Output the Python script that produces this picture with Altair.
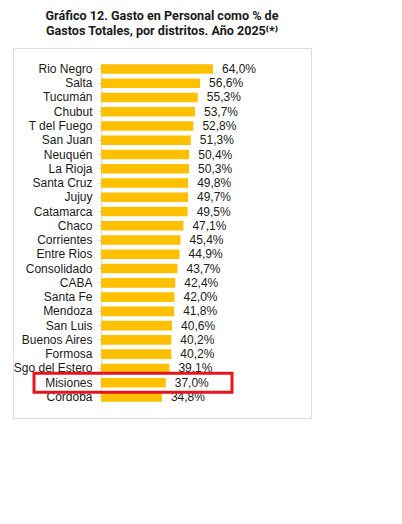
import altair as alt
import pandas as pd

districts = ["Rio Negro", "Salta", "Tucumán", "Chubut", "T del Fuego", "San Juan",
             "Neuquén", "La Rioja", "Santa Cruz", "Jujuy", "Catamarca", "Chaco",
             "Corrientes", "Entre Rios", "Consolidado", "CABA", "Santa Fe", "Mendoza",
             "San Luis", "Buenos Aires", "Formosa", "Sgo del Estero", "Misiones", "Córdoba"]
values = [64.0, 56.6, 55.3, 53.7, 52.8, 51.3, 50.4, 50.3, 49.8, 49.7, 49.5, 47.1,
          45.4, 44.9, 43.7, 42.4, 42.0, 41.8, 40.6, 40.2, 40.2, 39.1, 37.0, 34.8]
highlight = ["Misiones"]

df = pd.DataFrame({"district": districts, "value": values})
hl = pd.DataFrame({"district": highlight})

FONT = "Liberation Sans"

yscale = alt.Scale(domain=districts, paddingInner=0.33, paddingOuter=0,
                   range=[16.2, 353.7])
xscale = alt.Scale(domain=[-50.29, 120], nice=False, zero=False)

base = alt.Chart(df)

bars = base.mark_bar(color="#FFC000").encode(
    y=alt.Y("district:N", sort=districts, scale=yscale,
            axis=alt.Axis(title=None, offset=-88, labelFont=FONT, labelFontSize=12,
                          labelColor="#1a1a1a", labelPadding=6, tickSize=3,
                          tickColor="#d9d9d9", domainColor="#d9d9d9", labelLimit=200)),
    x=alt.X("value:Q", scale=xscale, axis=None),
)

labels = base.transform_calculate(
    lab="replace(format(datum.value, '.1f'), '.', ',') + '%'"
).mark_text(align="left", baseline="middle", dx=9, font=FONT, fontSize=12,
            color="#1a1a1a").encode(
    y=alt.Y("district:N", sort=districts, scale=yscale),
    x=alt.X("value:Q", scale=xscale),
    text="lab:N",
)

box = alt.Chart(hl).mark_bar(height=19, fill=None, stroke="#E3151E",
                             strokeWidth=3).encode(
    y=alt.Y("district:N", sort=districts, scale=yscale),
    x=alt.value(21),
    x2=alt.value(219),
)

chart = alt.layer(bars, labels, box).properties(
    width=298, height=370,
    padding={"left": 13, "top": 10, "right": 5, "bottom": 5},
    title=alt.TitleParams(
        text=["Gráfico 12. Gasto en Personal como % de",
              "Gastos Totales, por distritos. Año 2025⁽*⁾"],
        font="Roboto", fontSize=12.6, fontWeight="bold", color="#1a1a1a",
        anchor="middle", lineHeight=15, offset=10),
).configure_view(stroke="#e3e3e3", strokeWidth=2).configure(background="white")

chart.save("out.html", embed_options={"renderer": "svg", "actions": False})
